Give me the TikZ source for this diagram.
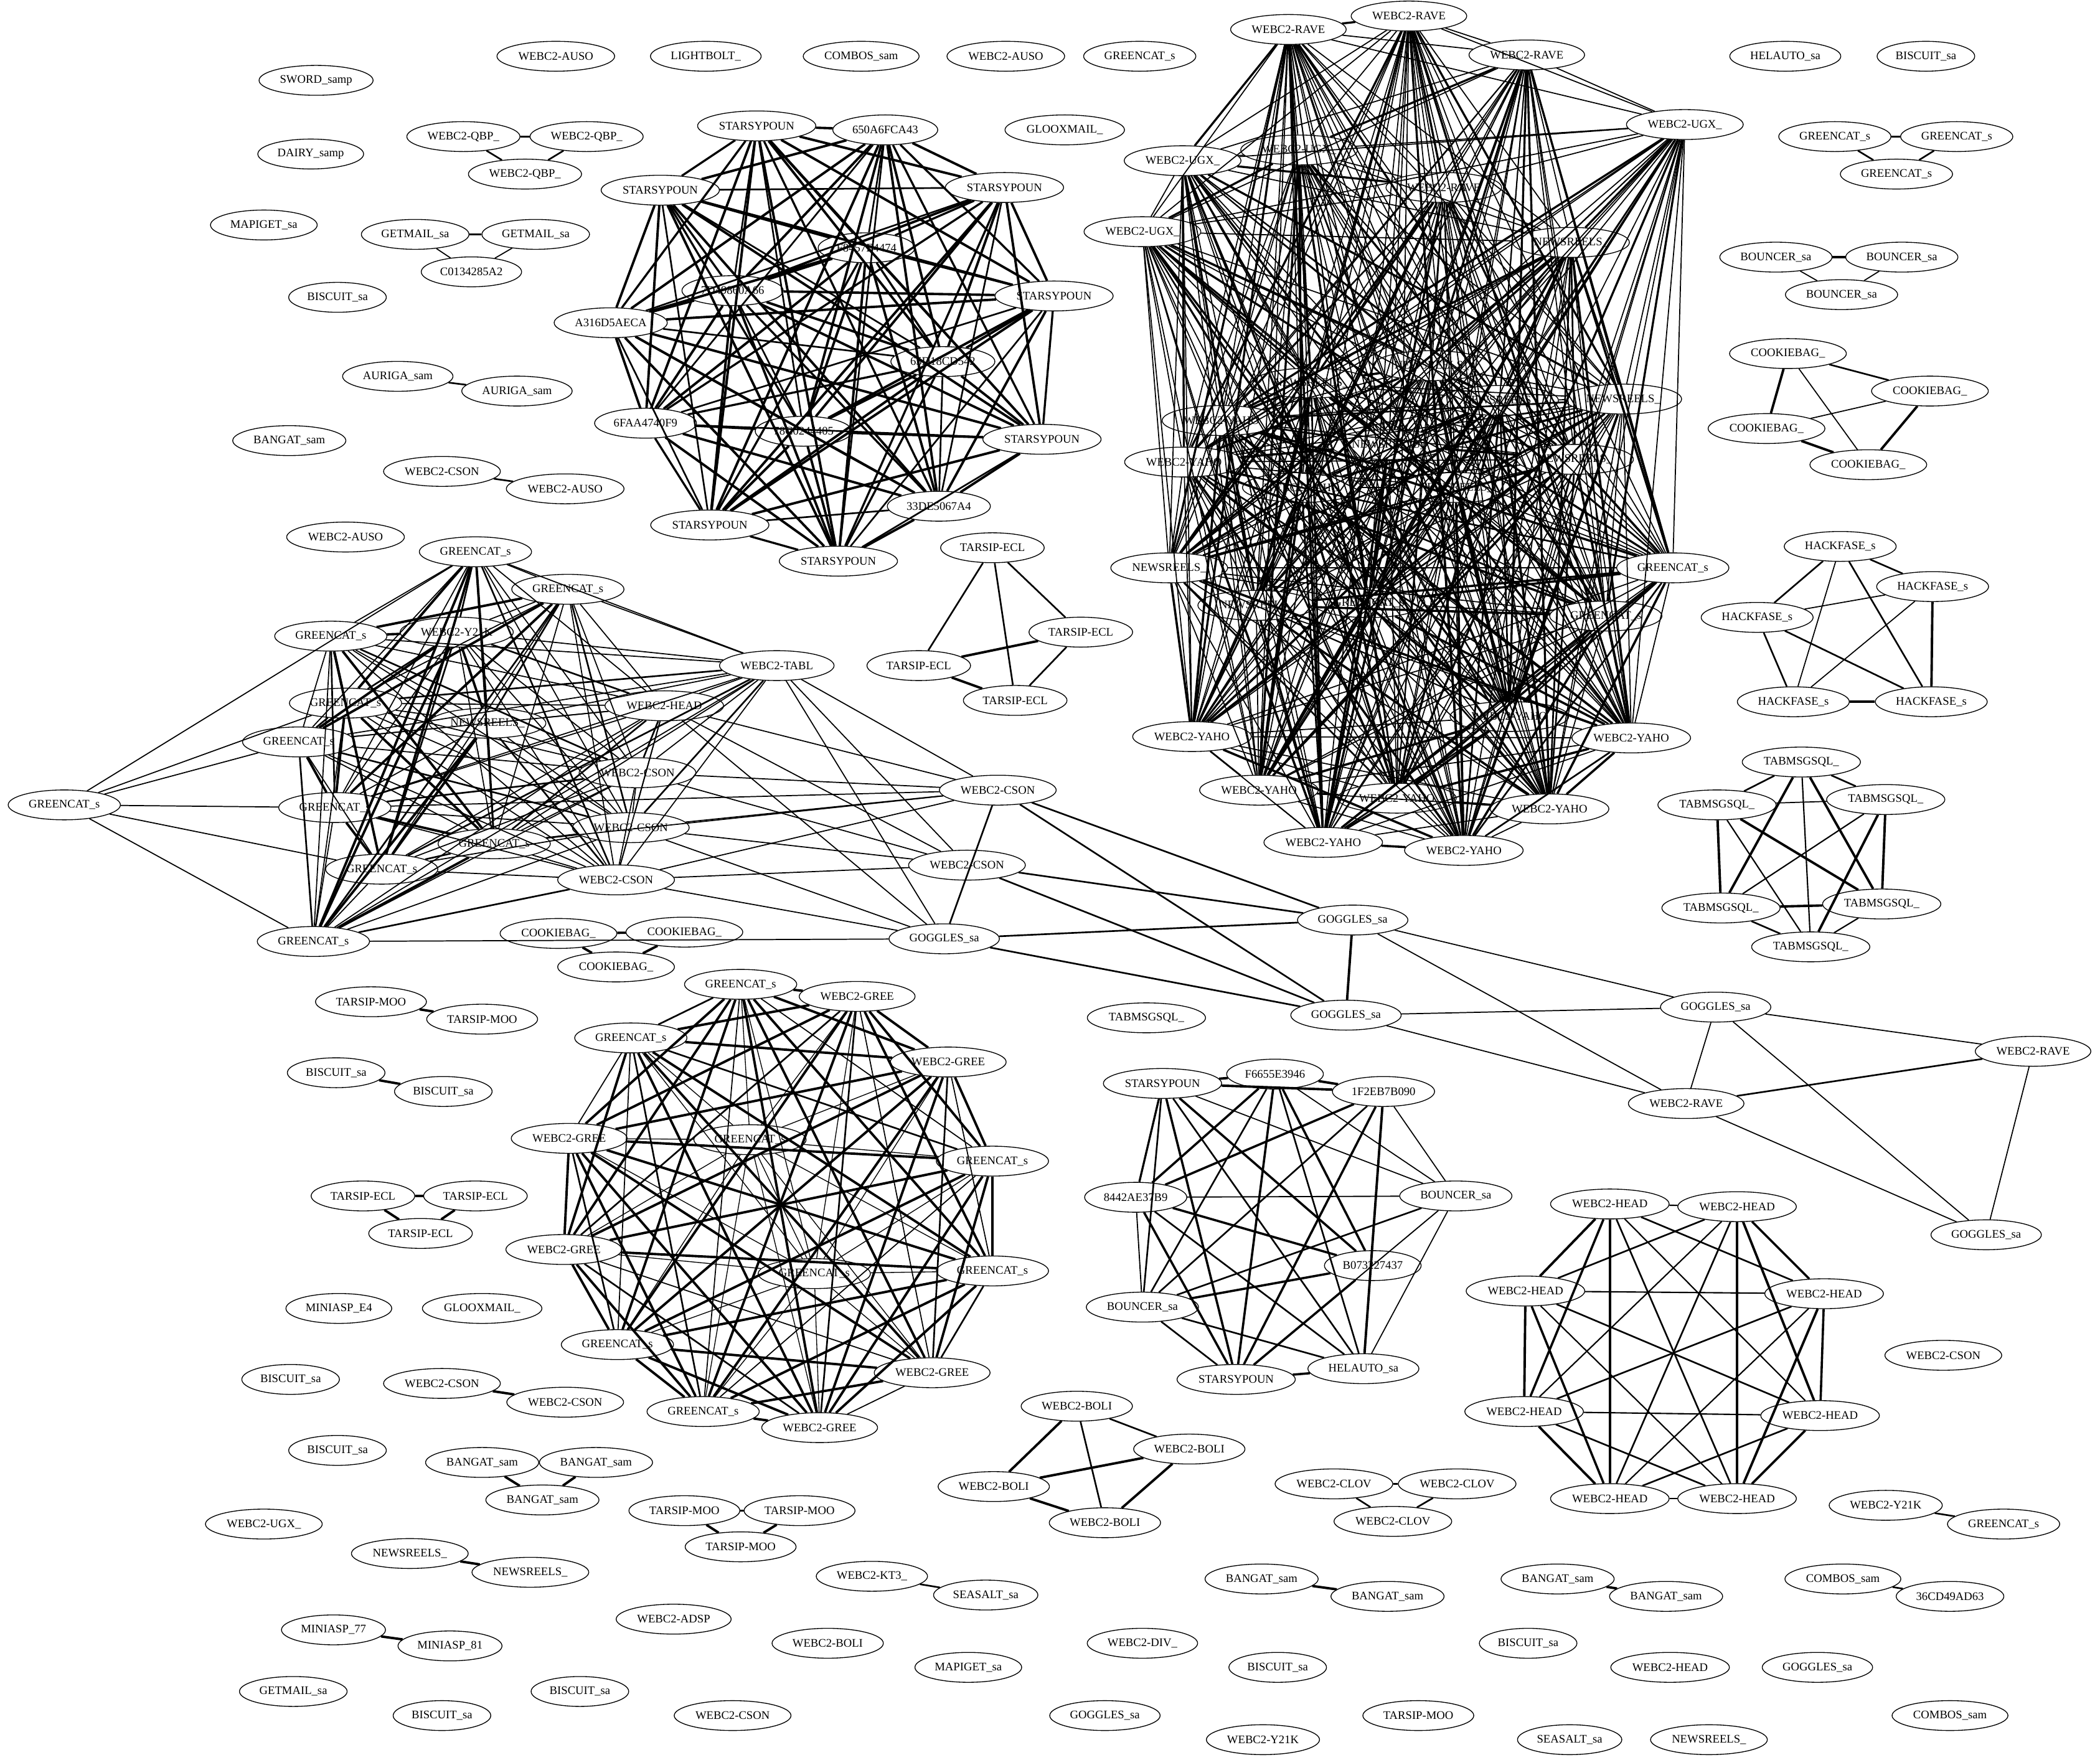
\documentclass[tikz,border=0pt]{standalone}
\usepackage{fontspec}
\setmainfont{Liberation Serif}
\usetikzlibrary{shapes.geometric}

\begin{document}
\begin{tikzpicture}[x=1.613pt,y=-1.613pt,
  nd/.style={ellipse,draw,line width=1pt,inner xsep=5pt,inner ysep=1pt,
    minimum height=36pt,minimum width=54pt,font=\fontsize{14}{16}\selectfont},
  lk/.style={line width=1.3pt},
  lkm/.style={line width=2pt},
  lkt/.style={line width=2.9pt}]
  \useasboundingbox (0,0) rectangle (1568,1314);

  % top right cluster
  \node[nd] (tr1) at (1052,12) {WEBC2-RAVE};
  \node[nd] (tr2) at (962,22) {WEBC2-RAVE};
  \node[nd] (tr3) at (1140,41) {WEBC2-RAVE};
  \node[nd] (tr4) at (1258,93) {WEBC2-UGX\_};
  \node[nd] (tr5) at (970,112) {WEBC2-UGX\_};
  \node[nd] (tr6) at (883,120) {WEBC2-UGX\_};
  \node[nd] (tr7) at (1078,140) {WEBC2-RAVE};
  \node[nd] (tr8) at (853,173) {WEBC2-UGX\_};
  \node[nd] (tr9) at (1173,181) {NEWSREELS\_};
  \node[nd] (tr10) at (1069,273) {NEWSREELS\_};
  \node[nd] (tr11) at (979,286) {NEWSREELS\_};
  \node[nd] (tr12) at (1212,298) {NEWSREELS\_};
  \node[nd] (tr13) at (1120,299) {NEWSREELS\_};
  \node[nd] (tr14) at (912,314) {WEBC2-YAHO};
  \node[nd] (tr15) at (1037,332) {NEWSREELS\_};
  \node[nd] (tr16) at (1176,343) {NEWSREELS\_};
  \node[nd] (tr17) at (884,345) {WEBC2-YAHO};
  \node[nd] (tr18) at (972,364) {WEBC2-YAHO};
  \node[nd] (tr19) at (1087,364) {NEWSREELS\_};
  \node[nd] (tr20) at (1249,424) {GREENCAT\_s};
  \node[nd] (tr21) at (873,424) {NEWSREELS\_};
  \node[nd] (tr22) at (938,452) {NEWSREELS\_};
  \node[nd] (tr23) at (1022,450) {GREENCAT\_s};
  \node[nd] (tr24) at (1199,460) {GREENCAT\_s};
  \node[nd] (tr25) at (1127,535) {WEBC2-YAHO};
  \node[nd] (tr26) at (890,550) {WEBC2-YAHO};
  \node[nd] (tr27) at (1218,551) {WEBC2-YAHO};
  \node[nd] (tr28) at (940,590) {WEBC2-YAHO};
  \node[nd] (tr29) at (1043,596) {WEBC2-YAHO};
  \node[nd] (tr30) at (1157,604) {WEBC2-YAHO};
  \node[nd] (tr31) at (988,629) {WEBC2-YAHO};
  \node[nd] (tr32) at (1093,635) {WEBC2-YAHO};
  \foreach \i in {1,...,31}{
    \foreach \j in {\i,...,32}{
      \ifnum\j>\i
        \ifnum\i<9
          \pgfmathsetmacro\lw{{1.3,1.3,1.3,2.5,1.3}[int(mod(\i+\j,5))]}
        \else
          \pgfmathsetmacro\lw{{1.3,2.7,1.3,2,2.7,1.3,1.3}[int(mod(2*\i+3*\j,7))]}
        \fi
        \draw[line width=\lw pt] (tr\i) -- (tr\j);
      \fi}}

  % top middle cluster
  \node[nd] (sp1) at (565,94) {STARSYPOUN};
  \node[nd] (sp2) at (661,97) {650A6FCA43};
  \node[nd] (sp3) at (493,142) {STARSYPOUN};
  \node[nd] (sp4) at (750,140) {STARSYPOUN};
  \node[nd] (sp5) at (647,185) {F8457E4474};
  \node[nd] (sp6) at (547,217) {7D49860A66};
  \node[nd] (sp7) at (787,221) {STARSYPOUN};
  \node[nd] (sp8) at (456,241) {A316D5AECA};
  \node[nd] (sp9) at (704,270) {65D18CD542};
  \node[nd] (sp10) at (482,316) {6FAA4740F9};
  \node[nd] (sp11) at (600,322) {78C0244405};
  \node[nd] (sp12) at (778,328) {STARSYPOUN};
  \node[nd] (sp13) at (701,378) {33DE5067A4};
  \node[nd] (sp14) at (530,392) {STARSYPOUN};
  \node[nd] (sp15) at (626,419) {STARSYPOUN};
  \foreach \i in {1,...,14}{
    \foreach \j in {\i,...,15}{
      \ifnum\j>\i
        \pgfmathsetmacro\lw{{2.9,2.9,2,2.9,2.5}[int(mod(\i+\j,5))]}
        \draw[line width=\lw pt] (sp\i) -- (sp\j);
      \fi}}

  % left cluster
  \node[nd] (gc0) at (48,601) {GREENCAT\_s};
  \node[nd] (gc1) at (355,412) {GREENCAT\_s};
  \node[nd] (gc2) at (424,440) {GREENCAT\_s};
  \node[nd] (gc3) at (247,475) {GREENCAT\_s};
  \node[nd] (gc4) at (341,472) {WEBC2-Y21K};
  \node[nd] (gc5) at (258,525) {GREENCAT\_s};
  \node[nd] (gc6) at (364,540) {NEWSREELS\_};
  \node[nd] (gc7) at (223,554) {GREENCAT\_s};
  \node[nd] (gc8) at (250,603) {GREENCAT\_s};
  \node[nd] (gc9) at (369,630) {GREENCAT\_s};
  \node[nd] (gc10) at (285,649) {GREENCAT\_s};
  \node[nd] (gc11) at (234,703) {GREENCAT\_s};
  \node[nd] (gc12) at (580,497) {WEBC2-TABL};
  \node[nd] (gc13) at (496,527) {WEBC2-HEAD};
  \node[nd] (gc14) at (476,577) {WEBC2-CSON};
  \node[nd] (gc15) at (471,618) {WEBC2-CSON};
  \node[nd] (gc16) at (460,657) {WEBC2-CSON};
  \foreach \i in {1,...,15}{
    \foreach \j in {\i,...,16}{
      \ifnum\j>\i
        \ifnum\j<12
          \pgfmathsetmacro\lw{{1.3,2.9,1.3,2.9,2}[int(mod(\i+2*\j,5))]}
        \else
          \pgfmathsetmacro\lw{{1.3,1.3,2,1.3,1.3}[int(mod(\i+\j,5))]}
        \fi
        \draw[line width=\lw pt] (gc\i) -- (gc\j);
      \fi}}
  \foreach \b in {1,5,7,8,10,11}
    \draw[lk] (gc0) -- (gc\b);

  % csons and goggles
  \node[nd] (cs1) at (745,590) {WEBC2-CSON};
  \node[nd] (cs2) at (722,646) {WEBC2-CSON};
  \node[nd] (gg1) at (705,701) {GOGGLES\_sa};
  \node[nd] (gg2) at (1010,687) {GOGGLES\_sa};
  \node[nd] (gg3) at (1005,758) {GOGGLES\_sa};
  \node[nd] (gg4) at (1281,752) {GOGGLES\_sa};
  \node[nd] (gg5) at (1483,922) {GOGGLES\_sa};
  \node[nd] (rv1) at (1518,785) {WEBC2-RAVE};
  \node[nd] (rv2) at (1259,824) {WEBC2-RAVE};
  \foreach \b in {8,9,12,13,14,15,16}
    \draw[lk] (cs1) -- (gc\b);
  \foreach \b in {12,13,14,15,16}
    \draw[lk] (cs2) -- (gc\b);
  \foreach \b in {11,12,13,15,16}
    \draw[lk] (gg1) -- (gc\b);
  \draw[lkm] (cs1) -- (gg1);
  \draw[lkm] (cs1) -- (gg2);
  \draw[lkm] (cs1) -- (gg3);
  \draw[lkm] (cs2) -- (gg2);
  \draw[lkm] (cs2) -- (gg3);
  \draw[lkm] (gg1) -- (gg2);
  \draw[lkm] (gg1) -- (gg3);
  \draw[lkt] (gg2) -- (gg3);
  \draw[lk] (gg2) -- (gg4);
  \draw[lk] (gg2) -- (rv2);
  \draw[lk] (gg3) -- (gg4);
  \draw[lk] (gg3) -- (rv2);
  \draw[lk] (gg4) -- (rv2);
  \draw[lk] (gg4) -- (rv1);
  \draw[lk] (gg4) -- (gg5);
  \draw[lkm] (rv1) -- (rv2);
  \draw[lk] (rv1) -- (gg5);
  \draw[lk] (rv2) -- (gg5);

  % tarsip-ecl
  \node[nd] (te1) at (741,409) {TARSIP-ECL};
  \node[nd] (te2) at (807,472) {TARSIP-ECL};
  \node[nd] (te3) at (686,497) {TARSIP-ECL};
  \node[nd] (te4) at (758,523) {TARSIP-ECL};
  \draw[lkm] (te1) -- (te2);
  \draw[lkm] (te1) -- (te3);
  \draw[lkm] (te1) -- (te4);
  \draw[lkt] (te2) -- (te3);
  \draw[lkm] (te2) -- (te4);
  \draw[lkt] (te3) -- (te4);

  % bottom left cluster
  \node[nd] (bg1) at (553,735) {GREENCAT\_s};
  \node[nd] (bg2) at (640,744) {WEBC2-GREE};
  \node[nd] (bg3) at (471,775) {GREENCAT\_s};
  \node[nd] (bg4) at (708,793) {WEBC2-GREE};
  \node[nd] (bg5) at (425,850) {WEBC2-GREE};
  \node[nd] (bg6) at (560,851) {GREENCAT\_s};
  \node[nd] (bg7) at (741,867) {GREENCAT\_s};
  \node[nd] (bg8) at (421,933) {WEBC2-GREE};
  \node[nd] (bg9) at (608,951) {GREENCAT\_s};
  \node[nd] (bg10) at (741,949) {GREENCAT\_s};
  \node[nd] (bg11) at (461,1004) {GREENCAT\_s};
  \node[nd] (bg12) at (696,1025) {WEBC2-GREE};
  \node[nd] (bg13) at (525,1054) {GREENCAT\_s};
  \node[nd] (bg14) at (612,1066) {WEBC2-GREE};
  \foreach \i in {1,...,13}{
    \foreach \j in {\i,...,14}{
      \ifnum\j>\i
        \pgfmathsetmacro\lw{{2.9,2.9,1.3,2.9,2,2.9}[int(mod(\i+\j,6))]}
        \ifnum\i=6 \def\lw{1}\fi
        \ifnum\j=6 \def\lw{1}\fi
        \ifnum\i=9 \def\lw{1}\fi
        \ifnum\j=9 \def\lw{1}\fi
        \draw[line width=\lw pt] (bg\i) -- (bg\j);
      \fi}}

  % bottom middle cluster
  \node[nd] (ss1) at (868,809) {STARSYPOUN};
  \node[nd] (ss2) at (952,802) {F6655E3946};
  \node[nd] (ss3) at (1033,815) {1F2EB7B090};
  \node[nd] (ss4) at (848,894) {8442AE37B9};
  \node[nd] (ss5) at (1087,893) {BOUNCER\_sa};
  \node[nd] (ss6) at (1025,945) {B073227437};
  \node[nd] (ss7) at (853,976) {BOUNCER\_sa};
  \node[nd] (ss8) at (923,1030) {STARSYPOUN};
  \node[nd] (ss9) at (1018,1022) {HELAUTO\_sa};
  \foreach \a/\b/\w in {1/2/2.9,1/3/2.9,2/3/2.9,1/4/2.5,1/5/1.3,1/6/2.7,1/7/2,
      1/8/2.7,1/9/2,2/4/2.7,2/5/1.3,2/6/2.7,2/7/2,2/8/2.7,2/9/2,
      3/4/2.7,3/5/1.3,3/7/2,3/8/2.7,3/9/2.9,4/5/1.4,4/6/2.7,4/7/1.4,
      4/8/2.7,4/9/2,5/7/2,5/8/1.4,5/9/1.3,6/7/2.7,6/8/2.7,7/8/2,
      7/9/2,8/9/2.7}
    \draw[line width=\w pt] (ss\a) -- (ss\b);

  % head cluster
  \node[nd] (hd1) at (1202,899) {WEBC2-HEAD};
  \node[nd] (hd2) at (1297,901) {WEBC2-HEAD};
  \node[nd] (hd3) at (1139,964) {WEBC2-HEAD};
  \node[nd] (hd4) at (1362,966) {WEBC2-HEAD};
  \node[nd] (hd5) at (1138,1054) {WEBC2-HEAD};
  \node[nd] (hd6) at (1359,1057) {WEBC2-HEAD};
  \node[nd] (hd7) at (1202,1119) {WEBC2-HEAD};
  \node[nd] (hd8) at (1297,1119) {WEBC2-HEAD};
  \foreach \i in {1,...,7}{
    \foreach \j in {\i,...,8}{
      \ifnum\j>\i
        \pgfmathsetmacro\lw{{2.9,2,2.7,1.6}[int(mod(\i+\j,4))]}
        \draw[line width=\lw pt] (hd\i) -- (hd\j);
      \fi}}

  % boli
  \node[nd] (bo1) at (804,1050) {WEBC2-BOLI};
  \node[nd] (bo2) at (888,1082) {WEBC2-BOLI};
  \node[nd] (bo3) at (742,1110) {WEBC2-BOLI};
  \node[nd] (bo4) at (825,1137) {WEBC2-BOLI};
  \draw[lkm] (bo1) -- (bo2);
  \draw[lkt] (bo1) -- (bo3);
  \draw[lkm] (bo1) -- (bo4);
  \draw[lkt] (bo2) -- (bo3);
  \draw[lkt] (bo2) -- (bo4);
  \draw[lkt] (bo3) -- (bo4);

  % right column
  \node[nd] (ck1) at (1335,264) {COOKIEBAG\_};
  \node[nd] (ck2) at (1441,292) {COOKIEBAG\_};
  \node[nd] (ck3) at (1319,320) {COOKIEBAG\_};
  \node[nd] (ck4) at (1395,347) {COOKIEBAG\_};
  \draw[lkm] (ck1) -- (ck2);
  \draw[lkt] (ck1) -- (ck3);
  \draw[lk] (ck1) -- (ck4);
  \draw[lk] (ck2) -- (ck3);
  \draw[lkt] (ck2) -- (ck4);
  \draw[lkt] (ck3) -- (ck4);
  \node[nd] (hf1) at (1374,408) {HACKFASE\_s};
  \node[nd] (hf2) at (1443,438) {HACKFASE\_s};
  \node[nd] (hf3) at (1312,461) {HACKFASE\_s};
  \node[nd] (hf4) at (1339,524) {HACKFASE\_s};
  \node[nd] (hf5) at (1442,524) {HACKFASE\_s};
  \draw[lkm] (hf1) -- (hf2);
  \draw[lkm] (hf1) -- (hf3);
  \draw[lk] (hf1) -- (hf4);
  \draw[lkm] (hf1) -- (hf5);
  \draw[lk] (hf2) -- (hf3);
  \draw[lk] (hf2) -- (hf4);
  \draw[lkt] (hf2) -- (hf5);
  \draw[lkm] (hf3) -- (hf4);
  \draw[lkm] (hf3) -- (hf5);
  \draw[lkt] (hf4) -- (hf5);
  \node[nd] (tq1) at (1345,569) {TABMSGSQL\_};
  \node[nd] (tq2) at (1282,601) {TABMSGSQL\_};
  \node[nd] (tq3) at (1408,597) {TABMSGSQL\_};
  \node[nd] (tq4) at (1285,678) {TABMSGSQL\_};
  \node[nd] (tq5) at (1405,675) {TABMSGSQL\_};
  \node[nd] (tq6) at (1352,707) {TABMSGSQL\_};
  \foreach \a/\b/\w in {1/2/2,1/3/2,1/4/2.9,1/5/2.9,1/6/1.6,2/3/1.3,2/4/2.9,
      2/5/2.9,2/6/1.6,3/4/1.6,3/5/2.9,3/6/2.9,4/5/2.9,4/6/2,5/6/1.6}
    \draw[line width=\w pt] (tq\a) -- (tq\b);

  % small groups
  \node[nd] (qb1) at (346,102) {WEBC2-QBP\_};
  \node[nd] (qb2) at (438,102) {WEBC2-QBP\_};
  \node[nd] (qb3) at (392,130) {WEBC2-QBP\_};
  \draw[lkm] (qb1) -- (qb2);
  \draw[lkm] (qb1) -- (qb3);
  \draw[lkm] (qb2) -- (qb3);
  \node[nd] (gm1) at (310,175) {GETMAIL\_sa};
  \node[nd] (gm2) at (400,175) {GETMAIL\_sa};
  \node[nd] (gm3) at (352,203) {C0134285A2};
  \draw[lkm] (gm1) -- (gm2);
  \draw[lk] (gm1) -- (gm3);
  \draw[lk] (gm2) -- (gm3);
  \node[nd] (au1) at (297,281) {AURIGA\_sam};
  \node[nd] (au2) at (386,292) {AURIGA\_sam};
  \draw[lkm] (au1) -- (au2);
  \node[nd] (wc1) at (330,352) {WEBC2-CSON};
  \node[nd] (wc2) at (422,365) {WEBC2-AUSO};
  \draw[lkm] (wc1) -- (wc2);
  \node[nd] (gr1) at (1370,102) {GREENCAT\_s};
  \node[nd] (gr2) at (1461,102) {GREENCAT\_s};
  \node[nd] (gr3) at (1416,130) {GREENCAT\_s};
  \draw[lkm] (gr1) -- (gr2);
  \draw[lkm] (gr1) -- (gr3);
  \draw[lkm] (gr2) -- (gr3);
  \node[nd] (bc1) at (1326,192) {BOUNCER\_sa};
  \node[nd] (bc2) at (1420,192) {BOUNCER\_sa};
  \node[nd] (bc3) at (1375,220) {BOUNCER\_sa};
  \draw[lkt] (bc1) -- (bc2);
  \draw[lk] (bc1) -- (bc3);
  \draw[lk] (bc2) -- (bc3);
  \node[nd] (cb1) at (417,697) {COOKIEBAG\_};
  \node[nd] (cb2) at (511,696) {COOKIEBAG\_};
  \node[nd] (cb3) at (460,722) {COOKIEBAG\_};
  \draw[lkt] (cb1) -- (cb2);
  \draw[lkt] (cb1) -- (cb3);
  \draw[lkt] (cb2) -- (cb3);
  \node[nd] (tm1) at (277,748) {TARSIP-MOO};
  \node[nd] (tm2) at (360,761) {TARSIP-MOO};
  \draw[lkt] (tm1) -- (tm2);
  \node[nd] (bs1) at (251,801) {BISCUIT\_sa};
  \node[nd] (bs2) at (331,815) {BISCUIT\_sa};
  \draw[lkt] (bs1) -- (bs2);
  \node[nd] (tc1) at (271,893) {TARSIP-ECL};
  \node[nd] (tc2) at (355,893) {TARSIP-ECL};
  \node[nd] (tc3) at (314,921) {TARSIP-ECL};
  \draw[lkt] (tc1) -- (tc2);
  \draw[lkt] (tc1) -- (tc3);
  \draw[lkt] (tc2) -- (tc3);
  \node[nd] (wc3) at (330,1033) {WEBC2-CSON};
  \node[nd] (wc4) at (422,1047) {WEBC2-CSON};
  \draw[lkt] (wc3) -- (wc4);
  \node[nd] (bn1) at (360,1092) {BANGAT\_sam};
  \node[nd] (bn2) at (445,1092) {BANGAT\_sam};
  \node[nd] (bn3) at (405,1120) {BANGAT\_sam};
  \draw[lkt] (bn1) -- (bn2);
  \draw[lkt] (bn1) -- (bn3);
  \draw[lkt] (bn2) -- (bn3);
  \node[nd] (tm3) at (511,1128) {TARSIP-MOO};
  \node[nd] (tm4) at (597,1128) {TARSIP-MOO};
  \node[nd] (tm5) at (553,1155) {TARSIP-MOO};
  \draw[lkt] (tm3) -- (tm4);
  \draw[lkt] (tm3) -- (tm5);
  \draw[lkt] (tm4) -- (tm5);
  \node[nd] (nw1) at (306,1160) {NEWSREELS\_};
  \node[nd] (nw2) at (396,1174) {NEWSREELS\_};
  \draw[lkt] (nw1) -- (nw2);
  \node[nd] (mi1) at (249,1217) {MINIASP\_77};
  \node[nd] (mi2) at (336,1229) {MINIASP\_81};
  \draw[lkt] (mi1) -- (mi2);
  \node[nd] (kt1) at (651,1177) {WEBC2-KT3\_};
  \node[nd] (kt2) at (736,1191) {SEASALT\_sa};
  \draw[lkm] (kt1) -- (kt2);
  \node[nd] (cl1) at (996,1108) {WEBC2-CLOV};
  \node[nd] (cl2) at (1088,1108) {WEBC2-CLOV};
  \node[nd] (cl3) at (1040,1136) {WEBC2-CLOV};
  \draw[lkm] (cl1) -- (cl2);
  \draw[lkm] (cl1) -- (cl3);
  \draw[lkm] (cl2) -- (cl3);
  \node[nd] (bn4) at (942,1179) {BANGAT\_sam};
  \node[nd] (bn5) at (1036,1192) {BANGAT\_sam};
  \draw[lkt] (bn4) -- (bn5);
  \node[nd] (bn6) at (1163,1179) {BANGAT\_sam};
  \node[nd] (bn7) at (1244,1192) {BANGAT\_sam};
  \draw[lkt] (bn6) -- (bn7);
  \node[nd] (cm1) at (1376,1179) {COMBOS\_sam};
  \node[nd] (cm2) at (1456,1192) {36CD49AD63};
  \draw[lkm] (cm1) -- (cm2);
  \node[nd] (yk1) at (1408,1124) {WEBC2-Y21K};
  \node[nd] (yk2) at (1496,1138) {GREENCAT\_s};
  \draw[lkm] (yk1) -- (yk2);

  % single nodes
  \node[nd] (s1) at (236,60) {SWORD\_samp};
  \node[nd] (s2) at (415,42) {WEBC2-AUSO};
  \node[nd] (s3) at (527,42) {LIGHTBOLT\_};
  \node[nd] (s4) at (643,42) {COMBOS\_sam};
  \node[nd] (s5) at (751,42) {WEBC2-AUSO};
  \node[nd] (s6) at (851,42) {GREENCAT\_s};
  \node[nd] (s7) at (795,97) {GLOOXMAIL\_};
  \node[nd] (s8) at (232,115) {DAIRY\_samp};
  \node[nd] (s9) at (197,168) {MAPIGET\_sa};
  \node[nd] (s10) at (252,222) {BISCUIT\_sa};
  \node[nd] (s11) at (216,329) {BANGAT\_sam};
  \node[nd] (s12) at (258,401) {WEBC2-AUSO};
  \node[nd] (s13) at (1333,42) {HELAUTO\_sa};
  \node[nd] (s14) at (1438,42) {BISCUIT\_sa};
  \node[nd] (s15) at (856,760) {TABMSGSQL\_};
  \node[nd] (s16) at (253,977) {MINIASP\_E4};
  \node[nd] (s17) at (360,977) {GLOOXMAIL\_};
  \node[nd] (s18) at (217,1030) {BISCUIT\_sa};
  \node[nd] (s19) at (252,1083) {BISCUIT\_sa};
  \node[nd] (s20) at (197,1138) {WEBC2-UGX\_};
  \node[nd] (s21) at (219,1263) {GETMAIL\_sa};
  \node[nd] (s22) at (330,1281) {BISCUIT\_sa};
  \node[nd] (s23) at (433,1263) {BISCUIT\_sa};
  \node[nd] (s24) at (503,1209) {WEBC2-ADSP};
  \node[nd] (s25) at (547,1281) {WEBC2-CSON};
  \node[nd] (s26) at (618,1227) {WEBC2-BOLI};
  \node[nd] (s27) at (723,1245) {MAPIGET\_sa};
  \node[nd] (s28) at (853,1227) {WEBC2-DIV\_};
  \node[nd] (s29) at (825,1281) {GOGGLES\_sa};
  \node[nd] (s30) at (954,1245) {BISCUIT\_sa};
  \node[nd] (s31) at (943,1299) {WEBC2-Y21K};
  \node[nd] (s32) at (1059,1281) {TARSIP-MOO};
  \node[nd] (s33) at (1141,1227) {BISCUIT\_sa};
  \node[nd] (s34) at (1172,1299) {SEASALT\_sa};
  \node[nd] (s35) at (1247,1245) {WEBC2-HEAD};
  \node[nd] (s36) at (1276,1299) {NEWSREELS\_};
  \node[nd] (s37) at (1357,1245) {GOGGLES\_sa};
  \node[nd] (s38) at (1456,1281) {COMBOS\_sam};
  \node[nd] (s39) at (1451,1012) {WEBC2-CSON};
\end{tikzpicture}
\end{document}
